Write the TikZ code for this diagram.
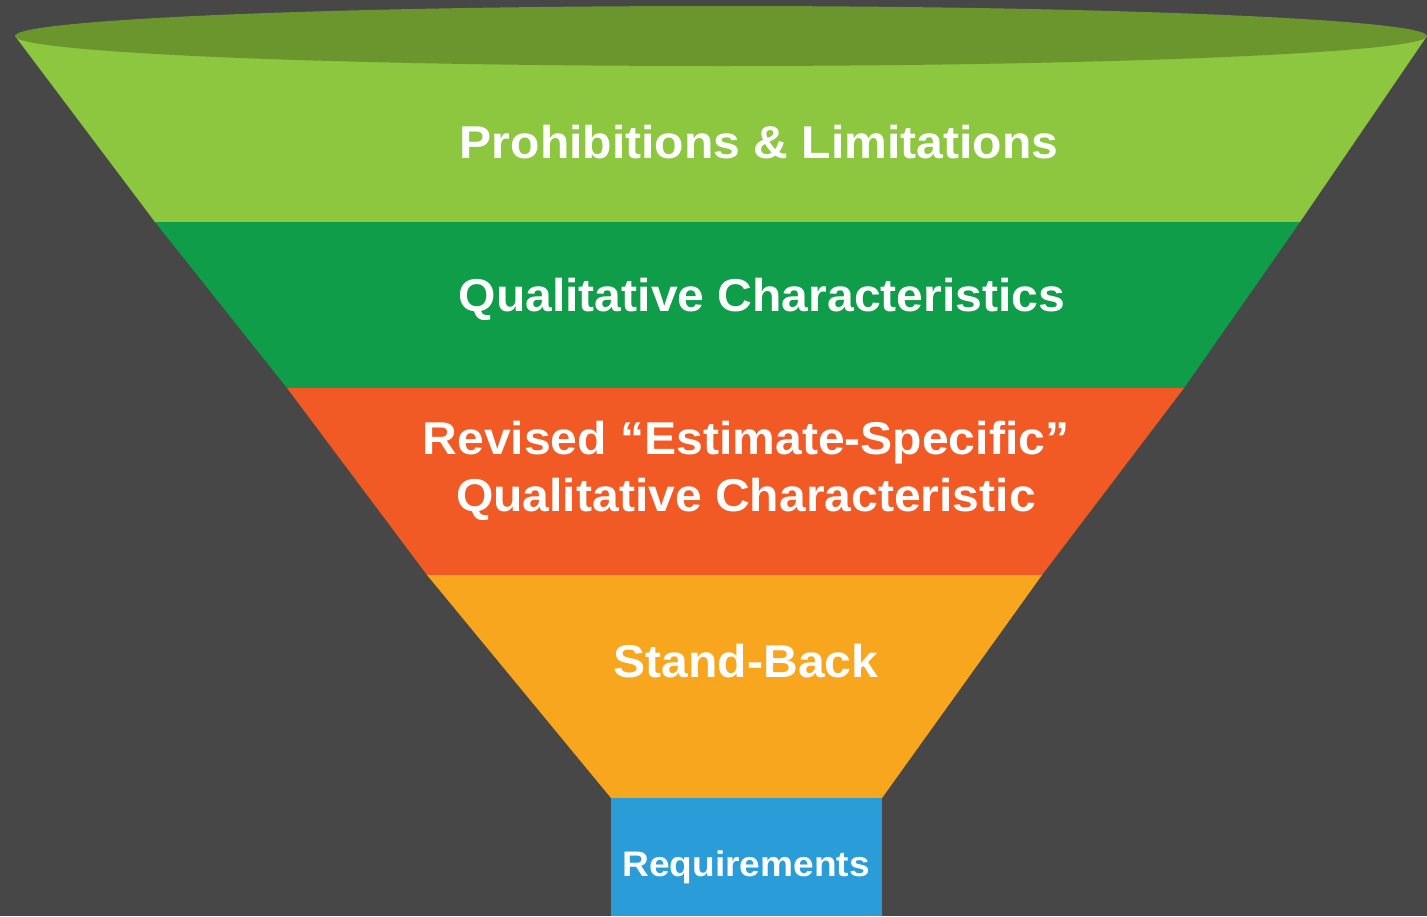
\documentclass[tikz,border=0pt]{standalone}
\usepackage{fontspec}
\setmainfont{Liberation Sans}
\usepackage{tikz}
\usetikzlibrary{positioning,calc}
\definecolor{bggray}{HTML}{474747}
\definecolor{limegreen}{HTML}{8DC63F}
\definecolor{rimgreen}{HTML}{6B962D}
\definecolor{midgreen}{HTML}{0F9D4A}
\definecolor{redorange}{HTML}{F15A24}
\definecolor{amber}{HTML}{F8A61D}
\definecolor{skyblue}{HTML}{2A9DD8}
\tikzset{label/.style={text=white,font=\bfseries\fontsize{46}{57}\selectfont,align=center,xscale=1.045}}

\begin{document}
\begin{tikzpicture}[x=1pt,y=-1pt]
    \fill[bggray] (0,0) rectangle (1427,916);
    \useasboundingbox (0,0) rectangle (1427,916);
    \clip (0,0) rectangle (1427,916);
    % funnel layers, top to bottom
    \fill[limegreen] (15,36) -- (1427,36) -- (1300,222) -- (155,222) -- cycle;
    \fill[rimgreen] (721,36) ellipse (706 and 30);
    \fill[midgreen] (155,222) -- (1300,222) -- (1184,388) -- (287,388) -- cycle;
    \fill[redorange] (287,388) -- (1184,388) -- (1042,575) -- (427,575) -- cycle;
    \fill[amber] (427,575) -- (1042,575) -- (882,798) -- (611,798) -- cycle;
    \fill[skyblue] (611,798) rectangle (882,916);
    \node[label] (prohib) at (759,142) {Prohibitions \& Limitations};
    \node[label] (qualchar) at (762,299) {Qualitative Characteristics};
    \node[label] (revised) at (746,471) {Revised “Estimate-Specific”\\Qualitative Characteristic};
    \node[label] (standback) at (746,661) {Stand-Back};
    \node[label,font=\bfseries\fontsize{35.5}{40}\selectfont] (reqs) at (746,867) {Requirements};
\end{tikzpicture}
\end{document}
